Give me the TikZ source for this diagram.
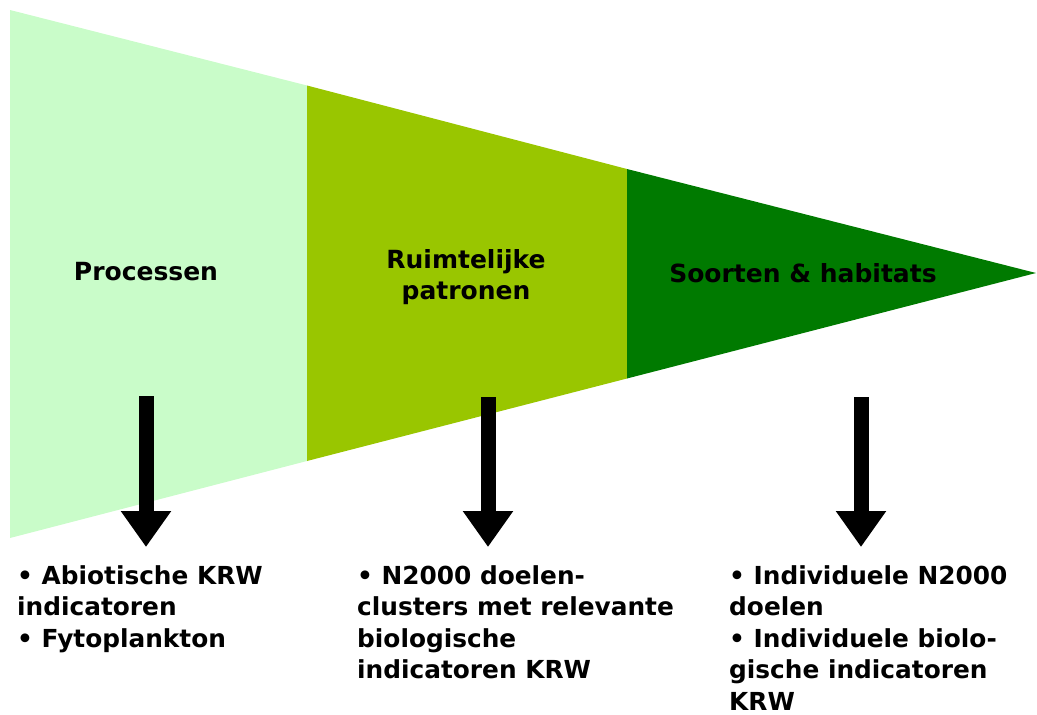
\documentclass[tikz,border=0pt]{standalone}
\usepackage{fontspec}
\setmainfont{DejaVu Sans}
\usetikzlibrary{calc}
\usetikzlibrary{arrows.meta}
\definecolor{lichtgroen}{HTML}{C9FCC9}
\definecolor{middengroen}{HTML}{99C600}
\definecolor{donkergroen}{HTML}{007A00}
\tikzstyle{every node}=[font=\bfseries]
\tikzstyle{kop}=[font=\bfseries\fontsize{25}{31}\selectfont, align=center]
\tikzstyle{lijst}=[font=\bfseries\fontsize{24.8}{31.5}\selectfont, align=left, anchor=north west, inner sep=0pt]
\tikzstyle{pijl}=[line width=15pt, -{Triangle[length=36pt,width=48pt]}]

\begin{document}
\begin{tikzpicture}[x=1pt,y=-1pt]

                \useasboundingbox (0,0) rectangle (1037,715);

                \coordinate (TL) at (10, 10);
                \coordinate (BL) at (10, 538);
                \coordinate (T1) at (307, 85.5);
                \coordinate (B1) at (307, 461);
                \coordinate (T2) at (627, 169);
                \coordinate (B2) at (627, 378.5);
                \coordinate (P) at (1036, 273);

                \fill [lichtgroen] (TL) -- (T1) -- (B1) -- (BL) -- cycle;
                \fill [middengroen] (T1) -- (T2) -- (B2) -- (B1) -- cycle;
                \fill [donkergroen] (T2) -- (P) -- (B2) -- cycle;

                \node [kop] (processen) at (146, 272) {Processen};
                \node [kop] (patronen) at (466, 277) {Ruimtelijke\\patronen};
                \node [kop] (soorten) at (803, 273) {Soorten \& habitats};

                \coordinate (A1) at (146, 396);
                \coordinate (A1e) at (146, 547);
                \coordinate (A2) at (488, 397);
                \coordinate (A2e) at (488, 547);
                \coordinate (A3) at (861, 397);
                \coordinate (A3e) at (861, 547);

                \draw [pijl] (A1) -- (A1e);
                \draw [pijl] (A2) -- (A2e);
                \draw [pijl] (A3) -- (A3e);

                \node [lijst] (links) at (17, 565) {• Abiotische KRW\\indicatoren\\• Fytoplankton};
                \node [lijst] (midden) at (357, 565) {• N2000 doelen-\\clusters met relevante\\biologische\\indicatoren KRW};
                \node [lijst] (rechts) at (729, 565) {• Individuele N2000\\doelen\\• Individuele biolo-\\gische indicatoren\\KRW};

            \end{tikzpicture}
\end{document}
